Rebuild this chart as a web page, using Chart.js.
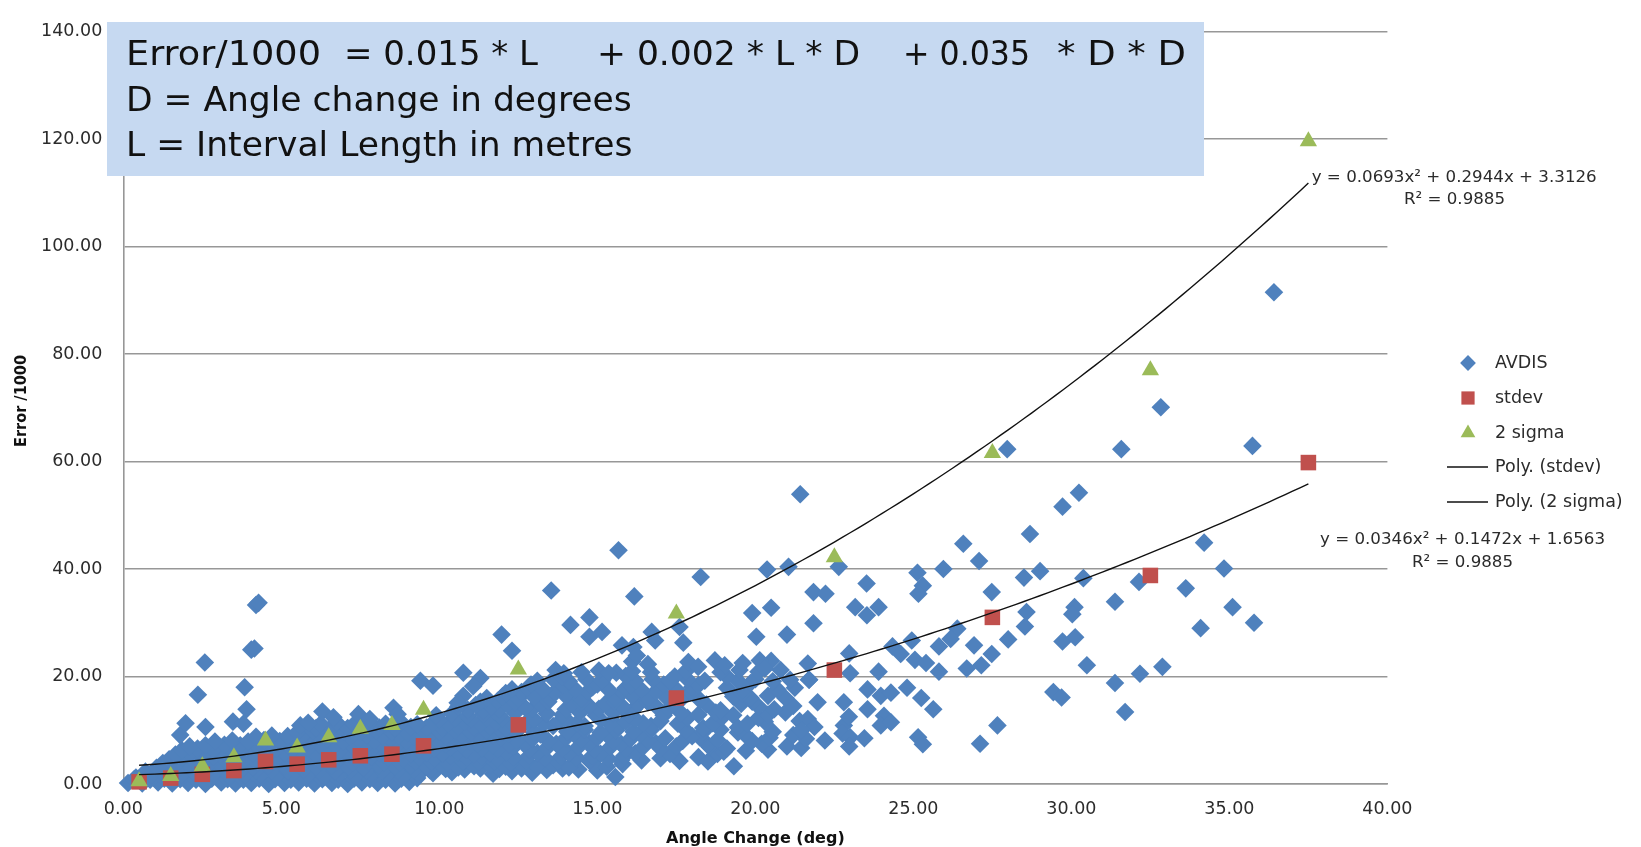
<!DOCTYPE html>
<html>
<head>
<meta charset="utf-8">
<title>Angle change vs error</title>
<script src="https://cdn.jsdelivr.net/npm/chart.js@4.4.1/dist/chart.umd.min.js"></script>
<style>
  html, body { margin: 0; padding: 0; background: #ffffff; }
  #wrap { width: 1641px; height: 847px; position: relative; }
</style>
</head>
<body>
<div id="wrap"><canvas id="chart" width="1641" height="847"></canvas></div>
<script>
// ---- data -------------------------------------------------------------
// Bin centres (deg) at which the spread statistics were computed
const binCentres = [0.5, 1.5, 2.5, 3.5, 4.5, 5.5, 6.5, 7.5, 8.5, 9.5, 12.5, 17.5, 22.5, 27.5, 32.5, 37.5];
const stdevValues = [0.4, 1.1, 1.8, 2.5, 4.2, 3.7, 4.5, 5.25, 5.55, 7.1, 11.0, 16.0, 21.2, 31.0, 38.8, 59.8];
const twoSigmaValues = [0.5, 1.5, 3.3, 5.0, 8.1, 6.8, 8.7, 10.3, 11.0, 13.8, 21.3, 31.7, 42.2, 61.6, 77.0, 119.6];

// Quadratic trend coefficients [x^2, x, const] and their R^2
const stdevFit = [0.0346, 0.1472, 1.6563];
const twoSigmaFit = [0.0693, 0.2944, 3.3126];
const stdevR2 = 0.9885;
const twoSigmaR2 = 0.9885;
const trendRange = [0.5, 37.5];

// Individual AVDIS survey comparisons: [angle change (deg), error /1000]
const avdis = [
  // bottom band
  [0.15,0.2],[0.6,0.1],[1.1,0.3],[1.55,0.1],[2.05,0.2],[2.6,0.0],[3.1,0.3],[3.55,0.1],[4.05,0.2],[4.6,0.0],
  [5.1,0.2],[5.55,0.3],[6.05,0.1],[6.6,0.2],[7.1,0.0],[7.55,0.3],[8.05,0.2],[8.6,0.1],[9.05,0.4],
  [0.35,0.9],[0.85,0.8],[1.3,1.0],[1.8,0.9],[2.3,0.8],[2.8,1.0],[3.3,0.9],[3.8,0.8],[4.3,1.0],[4.8,0.9],
  [5.3,0.8],[5.8,1.0],[6.3,0.9],[6.8,0.8],[7.3,1.0],[7.8,0.9],[8.3,0.8],[8.8,1.0],[9.3,1.1],
  [0.4,1.2],[0.9,1.7],[1.35,1.5],[1.85,1.8],[2.35,1.6],[2.85,1.9],[3.35,1.5],[3.85,1.7],[4.35,1.8],[4.85,1.6],
  [5.35,1.9],[5.85,1.7],[6.35,1.5],[6.85,1.8],[7.35,1.6],[7.85,1.9],[8.35,1.7],[8.85,1.5],[9.35,1.8],[9.8,2.0],
  [10.4,2.2],[11.7,1.9],[12.3,2.4],[12.94,2.1],[14.4,2.7],[15.57,1.3],
  [0.7,2.3],[1.2,2.5],[1.7,2.6],[2.2,2.4],[2.7,2.6],[3.2,2.5],[3.7,2.4],[4.2,2.6],[4.7,2.5],[5.2,2.4],
  [5.7,2.6],[6.2,2.5],[6.7,2.4],[7.2,2.6],[7.7,2.5],[8.2,2.4],[8.7,2.6],[9.2,2.5],[9.7,2.6],[10.2,2.8],
  [10.8,2.7],[11.3,2.9],[11.9,2.8],[12.6,2.9],[13.4,2.6],[13.9,2.9],[15.0,2.5],
  [1.05,3.0],[1.6,3.3],[2.1,3.4],[2.6,3.2],[3.1,3.5],[3.6,3.3],[4.1,3.1],[4.6,3.4],[5.1,3.3],[5.6,3.5],
  [6.1,3.2],[6.6,3.4],[7.1,3.3],[7.6,3.1],[8.1,3.5],[8.6,3.3],[9.1,3.4],[9.6,3.2],[10.1,3.4],[10.6,3.1],
  [11.1,3.3],[11.6,3.5],[12.1,3.2],[12.6,3.6],[13.1,3.3],[13.6,3.5],[14.1,3.1],[14.9,3.6],[15.3,3.2],[15.8,3.7],
  [19.32,3.3],
  [1.25,3.9],[1.75,4.1],[2.25,4.2],[2.75,4.0],[3.25,4.2],[3.75,4.1],[4.25,4.0],[4.75,4.2],[5.25,4.1],[5.75,4.0],
  [6.25,4.2],[6.75,4.1],[7.25,4.0],[7.75,4.2],[8.25,4.1],[8.75,4.0],[9.25,4.2],[9.75,4.1],[10.25,4.0],[10.75,4.3],
  [11.25,4.1],[11.75,4.2],[12.25,4.0],[12.75,4.3],[13.75,4.2],[14.75,4.3],[15.75,4.4],
  [1.45,4.6],[1.85,5.0],[2.35,4.8],[2.85,5.1],[3.35,4.9],[3.85,4.7],[4.35,5.0],[4.85,4.8],[5.35,5.1],[5.85,4.9],
  [6.35,4.7],[6.85,5.0],[7.35,4.8],[7.85,5.1],[8.35,4.9],[8.85,4.7],[9.35,5.0],[9.85,4.8],[10.35,5.2],[10.85,4.9],
  [11.35,5.1],[11.85,4.7],[12.35,5.0],[12.85,5.3],[13.35,4.8],[13.85,5.1],[14.35,4.9],[14.85,5.3],[15.35,4.7],[15.85,5.2],
  [16.4,4.4],[17.0,4.8],[17.6,4.3],[18.2,5.0],[18.5,4.2],[18.8,5.6],
  [1.65,5.5],[2.1,5.7],[2.6,5.8],[3.1,5.6],[3.6,5.8],[4.1,5.7],[4.6,5.6],[5.1,5.8],[5.6,5.7],[6.1,5.6],
  [6.6,5.8],[7.1,5.7],[7.6,5.6],[8.1,5.8],[8.6,5.7],[9.1,5.6],[9.6,5.8],[10.1,5.7],[10.6,5.9],[11.1,5.6],
  [11.6,5.8],[12.1,5.9],[13.1,5.8],[14.1,5.7],[15.1,5.6],[16.2,5.7],[17.3,5.6],[19.0,6.0],
  [1.85,6.3],[2.35,6.6],[2.85,6.4],[3.35,6.7],[3.85,6.5],[4.35,6.3],[4.85,6.6],[5.35,6.4],[5.85,6.7],[6.35,6.5],
  [6.85,6.3],[7.35,6.6],[7.85,6.4],[8.35,6.7],[8.85,6.5],[9.35,6.3],[9.85,6.6],[10.35,6.8],[10.85,6.4],[11.35,6.7],
  [11.85,6.5],[12.35,6.9],[12.85,6.4],[13.4,6.7],[13.9,6.5],[14.4,6.9],[14.9,6.4],[15.4,6.8],[15.9,6.5],[16.45,6.9],
  [17.0,6.6],[17.5,7.0],[18.55,6.9],[19.1,6.6],[19.7,6.2],[20.4,6.4],[21.0,7.0],[21.45,6.7],
  // middle band
  [2.1,7.0],[2.6,7.2],[3.2,7.3],[3.7,7.2],[4.2,7.4],[4.7,7.3],[5.2,7.2],[5.7,7.4],[6.2,7.3],[6.7,7.2],
  [7.2,7.4],[7.7,7.3],[8.2,7.2],[8.7,7.4],[9.2,7.3],[9.7,7.2],[10.2,7.4],[10.7,7.3],[11.2,7.5],[11.7,7.2],
  [12.2,7.4],[12.7,7.6],[13.7,7.5],[14.75,7.6],[15.75,7.5],[16.85,7.6],[18.5,7.3],[20.2,7.5],
  [3.45,8.1],[3.95,7.9],[4.45,8.2],[4.95,8.0],[5.45,8.3],[5.95,8.1],[6.45,8.4],[6.95,8.0],[7.45,8.3],
  [7.95,8.1],[8.45,8.4],[8.95,8.0],[9.45,8.3],[9.95,8.1],[10.45,8.5],[10.95,8.0],[11.45,8.3],[11.95,8.6],[12.45,8.1],
  [12.95,8.4],[13.45,8.0],[14.0,8.5],[14.5,8.2],[15.0,8.6],[15.5,8.0],[16.05,8.4],[16.6,8.1],[17.15,8.5],[17.7,8.0],
  [18.25,8.6],[18.8,8.2],[19.9,8.0],[20.45,8.6],[21.2,9.1],[21.6,8.4],[22.2,8.1],
  [4.2,8.8],[4.7,9.0],[5.2,8.9],[5.7,9.1],[6.2,8.9],[6.7,9.0],[7.2,8.8],[7.7,9.1],[8.2,8.9],[8.7,9.0],
  [9.2,8.8],[9.7,9.1],[10.2,8.9],[10.7,9.2],[11.2,8.9],[11.7,9.1],[12.2,9.3],[13.2,9.2],[14.25,9.3],[15.3,9.2],
  [16.35,9.3],[18.0,8.9],[19.65,9.3],
  [5.5,9.6],[6.0,9.9],[6.5,9.5],[7.0,9.8],[7.5,9.6],[8.0,9.9],[8.5,9.7],[9.0,9.5],[9.5,9.9],[10.0,9.7],
  [10.5,10.0],[11.0,9.6],[11.5,9.9],[12.0,9.7],[12.5,10.1],[13.0,9.6],[14.05,9.7],[14.6,10.1],[15.1,9.6],[15.6,10.0],
  [16.15,9.7],[16.7,10.1],[17.8,10.0],[18.35,9.7],[18.9,10.1],[19.45,9.6],[20.55,9.7],[21.45,10.0],
  [6.1,10.4],[6.6,10.6],[7.1,10.4],[7.6,10.6],[8.1,10.5],[8.6,10.4],[9.1,10.6],[9.6,10.5],[10.1,10.4],[10.6,10.7],
  [11.1,10.5],[11.6,10.7],[12.1,10.4],[12.6,10.8],[13.6,10.8],[14.6,10.8],[15.65,10.8],[16.7,10.8],[18.35,10.4],[19.45,10.5],
  [6.25,11.2],[6.75,11.5],[7.3,11.1],[7.8,11.4],[8.3,11.2],[8.8,11.5],[9.3,11.1],[9.8,11.4],[10.3,11.2],[10.8,11.6],
  [11.3,11.2],[11.8,11.5],[12.3,11.3],[12.8,11.7],[13.3,11.2],[13.8,11.6],[14.35,11.3],[15.4,11.2],[15.9,11.6],[16.45,11.3],
  [17.0,11.7],[17.55,11.2],[18.65,11.3],[19.75,11.2],[20.3,11.6],[21.4,11.7],[21.66,12.1],
  [10.0,12.0],[10.5,12.2],[11.0,12.0],[11.5,12.3],[12.0,12.1],[13.0,12.0],[14.0,12.1],[15.1,12.0],[16.2,12.1],[17.85,12.3],
  [18.95,12.4],[20.1,12.3],
  [9.9,12.8],[10.4,13.1],[10.9,12.7],[11.4,13.0],[11.9,12.8],[12.4,13.2],[13.4,13.1],[13.9,12.9],[14.45,13.3],[14.95,12.8],
  [15.5,13.2],[16.0,12.9],[17.1,12.8],[17.65,13.2],[18.2,12.9],[18.75,13.3],[19.3,12.8],[20.4,12.9],[20.95,13.3],
  [10.9,13.8],[11.4,13.6],[11.9,13.9],[12.95,14.0],[14.0,13.9],[15.05,14.0],[16.15,13.9],[17.25,14.0],[18.9,13.7],[20.6,13.9],
  [10.6,14.4],[11.15,14.7],[11.65,14.4],[12.15,14.8],[12.7,14.3],[13.2,14.7],[14.2,14.8],[14.75,14.5],[15.25,14.9],[15.8,14.4],
  [16.3,14.8],[16.85,14.5],[17.4,14.9],[18.45,14.8],[19.55,14.9],[20.1,14.4],[21.2,14.5],[21.97,15.2],
  [11.3,15.3],[11.85,15.5],[12.4,15.2],[13.45,15.3],[14.5,15.2],[15.55,15.3],[16.6,15.2],[18.25,15.6],[19.9,15.3],
  [11.5,16.0],[12.0,16.3],[12.5,15.9],[13.0,16.2],[13.5,16.0],[14.0,16.4],[14.5,15.9],[15.55,16.0],[16.1,16.4],[16.6,15.9],
  [17.15,16.3],[17.7,16.0],[19.3,16.3],[19.85,16.0],[20.4,16.4],[20.95,16.0],
  [12.1,16.9],[12.6,17.1],[13.65,17.1],[14.7,17.2],[15.8,17.1],[16.85,17.2],[17.95,17.1],[19.6,16.8],
  [12.3,17.6],[12.8,17.9],[13.3,17.5],[14.3,17.6],[14.85,18.0],[15.35,17.6],[15.9,17.9],[16.4,17.5],[17.5,17.6],[18.0,18.0],
  [19.1,17.9],[19.6,17.5],[20.7,17.6],[21.25,17.9],
  [12.9,18.5],[13.9,18.4],[15.0,18.5],[16.05,18.4],[17.1,18.5],[18.2,18.4],[19.85,18.8],
  [13.1,19.2],[13.6,19.5],[14.1,19.1],[14.65,19.5],[15.15,19.2],[16.2,19.2],[16.75,19.5],[17.3,19.1],[17.85,19.5],[18.4,19.2],
  [19.45,19.2],[20.0,19.5],[20.55,19.1],[21.1,19.4],[21.7,19.4],
  [13.9,20.0],[15.9,20.1],[17.45,20.0],[19.1,20.0],
  [14.5,20.8],[15.05,21.1],[15.6,20.7],[16.1,21.0],[16.7,20.8],[17.8,21.0],[18.9,20.8],[19.5,21.2],[20.1,20.9],[20.8,21.2],
  [16.1,22.8],[16.6,22.3],[19.6,22.5],[20.5,22.9],
  // scattered points above the main band, below 12 deg
  [1.8,9.1],[1.97,11.3],[2.6,10.6],[2.36,16.6],[2.58,22.6],[2.9,7.9],[3.47,11.6],[3.8,11.2],[3.9,13.9],[3.84,18.0],
  [4.05,25.0],[4.15,25.2],[4.2,33.3],[4.28,33.7],[5.6,10.9],[5.85,11.4],[6.3,13.5],[6.65,12.4],[7.44,13.0],[7.8,12.1],
  [8.55,14.2],[8.68,13.0],[9.4,19.2],[9.8,18.3],[10.76,20.7],[11.3,19.7],[11.07,18.2],[10.76,16.4],[10.58,15.1],
  [11.97,27.8],[12.3,24.8],
  // scattered points, 12 to 25 deg
  [13.54,36.0],[15.67,43.5],[16.17,34.9],[18.27,38.5],[20.37,39.9],[21.05,40.4],[22.64,40.4],[23.52,37.3],[21.84,35.7],[22.22,35.4],
  [23.16,32.9],[23.53,31.4],[23.9,32.9],[19.9,31.8],[20.5,32.8],[21.84,29.9],[14.75,31.0],[14.15,29.6],[15.15,28.3],[14.75,27.4],
  [16.72,28.3],[16.83,26.7],[17.6,29.2],[17.72,26.3],[20.03,27.4],[21.0,27.8],[22.97,24.3],[21.42,53.9],
  [13.68,21.2],[13.94,20.6],[15.78,25.8],[16.14,25.5],[16.25,23.9],[15.36,20.6],[17.88,22.7],[18.19,21.8],[18.72,23.0],[19.03,22.1],
  [20.14,23.0],[20.3,21.5],[21.66,22.4],
  [23.0,20.6],[23.9,20.9],[23.55,17.6],[23.97,16.4],[24.29,17.0],[24.8,17.9],[22.8,15.2],[23.55,13.9],[24.07,12.7],[23.97,10.9],
  [24.29,11.5],[22.8,10.9],[22.76,9.4],[23.0,8.7],[23.45,8.5],[22.97,7.0],[22.96,12.5],[21.7,19.4],
  [21.87,10.6],[21.45,10.0],[24.34,25.6],[24.6,24.2],
  // scattered points beyond 25 deg
  [36.41,91.5],[32.83,70.1],[27.97,62.3],[31.58,62.3],[35.73,62.9],[30.24,54.2],[29.72,51.6],[28.69,46.5],[26.58,44.7],[27.08,41.5],
  [34.2,44.9],[34.83,40.1],[25.13,39.3],[25.95,40.0],[28.5,38.4],[29.01,39.6],[30.38,38.3],[32.14,37.6],[25.3,36.9],[25.16,35.4],
  [27.48,35.7],[33.62,36.4],[28.58,32.0],[30.1,32.9],[30.03,31.6],[31.38,33.9],[35.1,32.9],[35.78,30.0],[34.09,29.0],[28.53,29.3],
  [26.39,28.9],[26.18,27.0],[24.95,26.7],[25.81,25.6],[26.92,25.8],[28.0,26.9],[29.72,26.5],[30.12,27.3],[25.05,23.1],[25.4,22.5],
  [25.81,20.9],[26.69,21.5],[27.15,22.1],[27.48,24.2],[30.49,22.1],[32.17,20.5],[32.88,21.8],[31.38,18.8],[25.25,16.0],[25.63,13.9],
  [29.43,17.1],[29.69,16.1],[31.7,13.4],[27.66,10.9],[25.15,8.7],[25.3,7.4],[27.11,7.5]
];

// Axis ranges [min, max, step]
const xRange = [0, 40, 5];
const yRange = [0, 140, 20];

// ---- helpers ----------------------------------------------------------
const toPoints = (xs, ys) => xs.map((x, i) => ({ x: x, y: ys[i] }));

function trendCurve(coef) {
  const pts = [];
  for (let x = trendRange[0]; x <= trendRange[1] + 1e-9; x += 0.25) {
    pts.push({ x: x, y: coef[0] * x * x + coef[1] * x + coef[2] });
  }
  return pts;
}

function equationText(coef) {
  return 'y = ' + coef[0].toFixed(4) + 'x\u00B2 + ' + coef[1].toFixed(4) + 'x + ' + coef[2].toFixed(4);
}

// Draw text squeezed/stretched so that it spans the given width
function fitText(ctx, text, left, y, width) {
  const w = ctx.measureText(text).width;
  ctx.save();
  ctx.translate(left, y);
  ctx.scale(width / w, 1);
  ctx.textAlign = 'left';
  ctx.fillText(text, 0, 0);
  ctx.restore();
}

function marker(ctx, style, x, y, r, color) {
  ctx.save();
  ctx.fillStyle = color;
  ctx.beginPath();
  if (style === 'rectRot') {
    ctx.moveTo(x - r, y); ctx.lineTo(x, y - r); ctx.lineTo(x + r, y); ctx.lineTo(x, y + r);
  } else if (style === 'rect') {
    const s = Math.SQRT1_2 * r;
    ctx.rect(x - s, y - s, 2 * s, 2 * s);
  } else if (style === 'triangle') {
    ctx.moveTo(x, y - r);
    ctx.lineTo(x + r * Math.sin(2 * Math.PI / 3), y + r / 2);
    ctx.lineTo(x - r * Math.sin(2 * Math.PI / 3), y + r / 2);
  }
  ctx.closePath();
  ctx.fill();
  ctx.restore();
}

const COLORS = { avdis: '#4F81BD', stdev: '#C0504D', sigma: '#9BBB59', trend: '#111111', grid: '#979797', text: '#2b2b2b' };
const FONT = 'DejaVu Sans';

// ---- annotations: formula box, trend equations, legend, axis titles ----
const annotations = {
  id: 'annotations',
  afterDraw(chart) {
    const ctx = chart.ctx;
    const area = chart.chartArea;

    // formula panel
    ctx.save();
    ctx.fillStyle = '#C6D9F1';
    ctx.fillRect(107, 22, 1097, 154);
    ctx.fillStyle = '#111111';
    ctx.font = '34.5px "' + FONT + '"';
    ctx.textBaseline = 'alphabetic';
    const line1 = [
      ['Error/1000', 126, 321],
      ['= 0.015 * L', 344, 538],
      ['+ 0.002 * L * D', 597, 860],
      ['+ 0.035', 903, 1030],
      ['* D * D', 1057, 1186]
    ];
    line1.forEach(s => fitText(ctx, s[0], s[1], 64.5, s[2] - s[1]));
    ctx.fillText('D = Angle change in degrees', 126, 110.5);
    ctx.fillText('L = Interval Length in metres', 126, 156);
    ctx.restore();

    // trend equations
    ctx.save();
    ctx.fillStyle = COLORS.text;
    ctx.font = '16.5px "' + FONT + '"';
    ctx.textBaseline = 'middle';
    fitText(ctx, equationText(twoSigmaFit), 1311.7, 178, 285);
    fitText(ctx, 'R\u00B2 = ' + twoSigmaR2.toFixed(4), 1404, 200, 101);
    fitText(ctx, equationText(stdevFit), 1320, 540, 285);
    fitText(ctx, 'R\u00B2 = ' + stdevR2.toFixed(4), 1412, 563, 101);
    ctx.restore();

    // legend
    ctx.save();
    ctx.font = '17.5px "' + FONT + '"';
    ctx.fillStyle = COLORS.text;
    ctx.textBaseline = 'middle';
    const rows = [363, 398, 433, 467, 502];
    chart.data.datasets.slice().sort((a, b) => a.legendRank - b.legendRank).forEach((ds, i) => {
      const y = rows[i];
      if (ds.type === 'line') {
        ctx.strokeStyle = ds.borderColor;
        ctx.lineWidth = ds.borderWidth;
        ctx.beginPath();
        ctx.moveTo(1447, y); ctx.lineTo(1488, y);
        ctx.stroke();
      } else {
        marker(ctx, ds.pointStyle, 1468, y, ds.pointRadius * 0.85, ds.backgroundColor);
      }
      ctx.fillText(ds.label, 1495, y);
    });
    ctx.restore();

    // axis titles
    ctx.save();
    ctx.fillStyle = '#111111';
    ctx.font = 'bold 16px "' + FONT + '"';
    ctx.textBaseline = 'middle';
    ctx.textAlign = 'center';
    ctx.fillText('Angle Change (deg)', (area.left + area.right) / 2, 839);
    ctx.translate(22, 401);
    ctx.rotate(-Math.PI / 2);
    const t = 'Error /1000';
    const tw = ctx.measureText(t).width;
    ctx.scale(92 / tw, 1);
    ctx.fillText(t, 0, 0);
    ctx.restore();
  }
};

// ---- chart ------------------------------------------------------------
Chart.defaults.font.family = FONT;

new Chart(document.getElementById('chart'), {
  type: 'scatter',
  data: {
    datasets: [
      {
        label: 'Poly. (stdev)', type: 'line', legendRank: 3,
        data: trendCurve(stdevFit),
        borderColor: COLORS.trend, borderWidth: 1.4, pointRadius: 0, fill: false, tension: 0, order: 0
      },
      {
        label: 'Poly. (2 sigma)', type: 'line', legendRank: 4,
        data: trendCurve(twoSigmaFit),
        borderColor: COLORS.trend, borderWidth: 1.4, pointRadius: 0, fill: false, tension: 0, order: 0
      },
      {
        label: '2 sigma', legendRank: 2, clip: false,
        data: toPoints(binCentres, twoSigmaValues),
        pointStyle: 'triangle', pointRadius: 10, backgroundColor: COLORS.sigma,
        pointBackgroundColor: COLORS.sigma, borderWidth: 0, pointBorderWidth: 0, order: 1
      },
      {
        label: 'stdev', legendRank: 1, clip: false,
        data: toPoints(binCentres, stdevValues),
        pointStyle: 'rect', pointRadius: 11, backgroundColor: COLORS.stdev,
        pointBackgroundColor: COLORS.stdev, borderWidth: 0, pointBorderWidth: 0, order: 2
      },
      {
        label: 'AVDIS', legendRank: 0, clip: false,
        data: avdis.map(p => ({ x: p[0], y: p[1] })),
        pointStyle: 'rectRot', pointRadius: 9.3, backgroundColor: COLORS.avdis,
        pointBackgroundColor: COLORS.avdis, borderWidth: 0, pointBorderWidth: 0, order: 3
      }
    ]
  },
  options: {
    responsive: false,
    animation: false,
    devicePixelRatio: 1,
    layout: { padding: { top: 15, right: 253.6, bottom: 0, left: 0 } },
    plugins: { legend: { display: false }, tooltip: { enabled: false } },
    scales: {
      x: {
        type: 'linear', min: xRange[0], max: xRange[1],
        ticks: {
          stepSize: xRange[2], autoSkip: false, maxRotation: 0, padding: 14.5,
          color: COLORS.text, font: { size: 17.5, family: FONT },
          callback: v => Number(v).toFixed(2)
        },
        grid: { display: false, drawTicks: false },
        border: { display: true, color: COLORS.grid, width: 1.6 },
        afterFit(scale) { scale.height = 63; }
      },
      y: {
        type: 'linear', min: yRange[0], max: yRange[1],
        ticks: {
          stepSize: yRange[2], padding: 21,
          color: COLORS.text, font: { size: 17.5, family: FONT },
          callback: v => Number(v).toFixed(2)
        },
        grid: { color: COLORS.grid, lineWidth: 1.6, drawTicks: false },
        border: { display: true, color: COLORS.grid, width: 1.6 },
        afterFit(scale) { scale.width = 123.3; }
      }
    }
  },
  plugins: [annotations]
});
</script>
</body>
</html>
